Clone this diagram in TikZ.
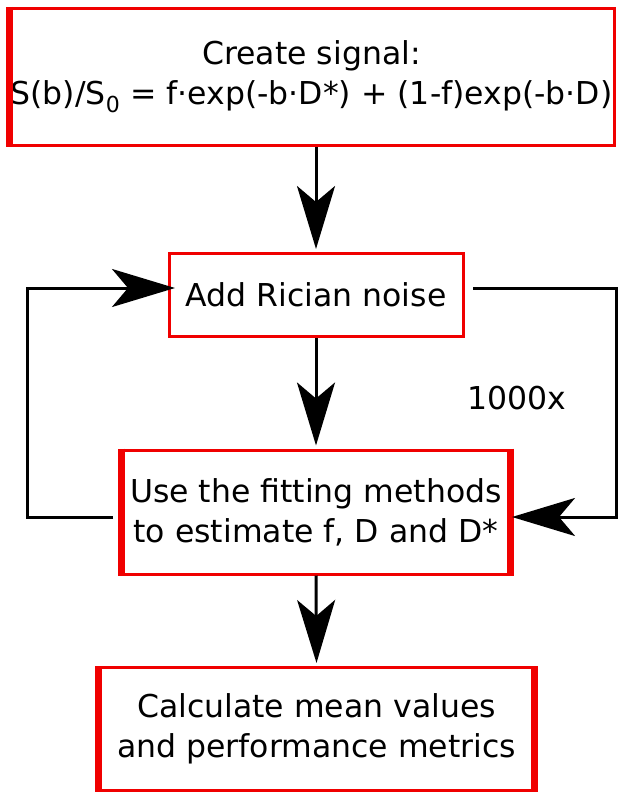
\documentclass[tikz,border=0pt]{standalone}
\usepackage{fontspec}
\setmainfont{DejaVu Sans}
\usetikzlibrary{arrows.meta,calc}
\definecolor{boxred}{RGB}{240,0,0}
\begin{document}
\begin{tikzpicture}[x=1pt,y=-1pt,
  box/.style={draw=boxred, line width=3pt, fill=white, align=center, inner sep=0pt,
    font=\fontsize{31.5}{40}\selectfont},
  thickedge/.style={draw=boxred, line width=7pt},
  flow/.style={draw=black, line width=3pt},
  arr/.style={flow, -{Stealth[length=63pt, width=38pt, inset=16pt]}},
  lbl/.style={font=\fontsize{31.5}{40}\selectfont, inner sep=0pt}]
\useasboundingbox (0,0) rectangle (621,794);

\node[box, minimum width=606pt, minimum height=137pt] (top) at (311.5,77)
  {Create signal:\\S(b)/S$_{\mathrm{0}}$ = f·exp(-b·D*) + (1-f)exp(-b·D)};
\node[box, minimum width=294pt, minimum height=83pt] (add) at (316,295)
  {Add Rician noise};
\node[box, minimum width=391pt, minimum height=124pt] (fit) at (316,512)
  {Use the fitting methods\\to estimate f, D and D*};
\node[box, minimum width=438pt, minimum height=123pt] (calc) at (316.5,729)
  {Calculate mean values\\and performance metrics};

% thick side edges
\draw[thickedge] ([xshift=2.5pt]top.north west) -- ([xshift=2.5pt]top.south west);
\draw[thickedge] ([xshift=2.5pt]fit.north west) -- ([xshift=2.5pt]fit.south west);
\draw[thickedge] ([xshift=-2.5pt]fit.north east) -- ([xshift=-2.5pt]fit.south east);
\draw[thickedge] ([xshift=2.5pt]calc.north west) -- ([xshift=2.5pt]calc.south west);
\draw[thickedge] ([xshift=-2.5pt]calc.north east) -- ([xshift=-2.5pt]calc.south east);

% main flow
\draw[arr] (top.south -| add.north) -- ([yshift=3pt]add.north);
\draw[arr] (add.south) -- ([yshift=3pt]fit.north);
\draw[arr] (fit.south) -- ([yshift=3pt]calc.north);

% loop
\coordinate (lstart) at (113,517);
\coordinate (lcornerB) at (27,517);
\coordinate (lcornerT) at (27,288);
\coordinate (lend) at (175,288);
\draw[arr] (lstart) -- (lcornerB) -- (lcornerT) -- (lend);

\coordinate (rstart) at (473,288);
\coordinate (rcornerT) at (616,288);
\coordinate (rcornerB) at (616,517);
\coordinate (rend) at (512,517);
\draw[arr] (rstart) -- (rcornerT) -- (rcornerB) -- (rend);

\node[lbl] (count) at (517,398) {1000x};
\end{tikzpicture}
\end{document}
